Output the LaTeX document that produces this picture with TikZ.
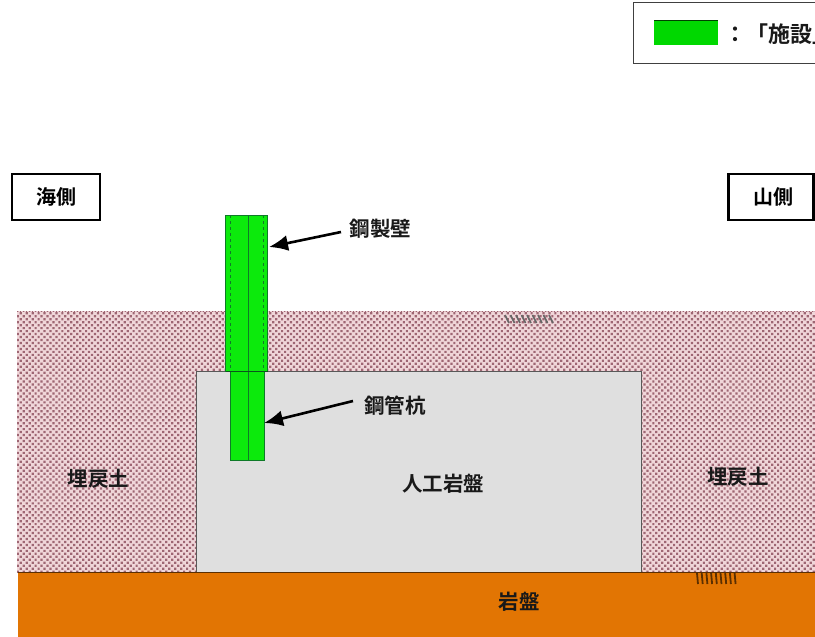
\documentclass[tikz,border=0pt]{standalone}
\usepackage{fontspec}
\newfontfamily\cjk[BoldFont=Noto Sans CJK JP Bold]{Noto Sans CJK JP}
\usetikzlibrary{patterns.meta,arrows.meta}
\definecolor{fillpink}{HTML}{F0D6D9}
\definecolor{dotcol}{HTML}{9E6673}
\definecolor{rockc}{HTML}{E27503}
\definecolor{greyc}{HTML}{DFDFDF}
\definecolor{greenc}{HTML}{0CEA0C}
\definecolor{legendg}{HTML}{00D800}
\definecolor{greenl}{HTML}{0F7A28}
\tikzset{
  x=1pt,y=-1pt,
  lab/.style={font=\cjk\bfseries\fontsize{20.5}{24}\selectfont,text=black!90,inner sep=0pt},
  sidebox/.style={draw=black,line width=2.2pt,fill=white,inner sep=0pt,font=\cjk\bfseries\fontsize{20}{24}\selectfont},
  ptr/.style={line width=2.6pt,draw=black,-{Latex[length=19pt,width=16pt]}},
  steelpart/.style={draw=greenl,line width=0.7pt,fill=greenc},
  groundline/.style={draw=black!65,line width=0.8pt},
}
\begin{document}
\begin{tikzpicture}
\useasboundingbox (0,0) rectangle (815,637);
\clip (0,0) rectangle (815,637);
% fill
\fill[fillpink] (17,311) rectangle (815,573);
\fill[pattern={Dots[radius=1.55pt,distance=4.2pt,angle=45]},pattern color=dotcol] (17,311) rectangle (815,573);
\draw[dotcol,line width=1pt,dotted] (17,311) -- (815,311);
% artificial rock
\draw[groundline,fill=greyc] (196,573) -- (196,371) -- (641,371) -- (641,573);
% bedrock
\fill[rockc] (18,573) rectangle (815,637);
\draw[black!60!rockc,line width=0.8pt] (18,572.5) -- (815,572.5);
% small marks
\foreach \i in {0,...,8} {\draw[black!60!rockc,line width=1.8pt] ({697+\i*4.7},573) -- ({698+\i*4.7},584);}
\foreach \i in {0,...,8} {\draw[black!60,line width=1.6pt] ({505+\i*5.5},315) -- ({509+\i*5.5},323);}
% steel
\draw[steelpart] (225.5,215) rectangle (267.5,371);
\draw[greenl,line width=0.7pt,dashed] (230,215) -- (230,371) (263,215) -- (263,371);
\draw[steelpart] (230,371) rectangle (264,460);
\draw[greenl,line width=0.7pt] (248,215) -- (248,460);
\draw[greenl!70!black,line width=0.7pt] (225.5,371) -- (267.5,371);
% labels
\node[lab] (wall) at (380.5,229) {鋼製壁};
\node[lab] (pile) at (395,406) {鋼管杭};
\node[lab] (fl) at (98.5,479) {埋戻土};
\node[lab] (fr) at (738,477) {埋戻土};
\node[lab] (ar) at (443,484) {人工岩盤};
\node[lab] (rk) at (519,602) {岩盤};
\coordinate (wallpt) at (269,247);
\coordinate (pilept) at (264,423);
\coordinate (wallst) at (341,232);
\coordinate (pilest) at (353,401);
\draw[ptr] (wallst) -- (wallpt);
\draw[ptr] (pilest) -- (pilept);
\node[sidebox,minimum width=88pt,minimum height=46pt] (sea) at (56,197) {海側};
\node[sidebox,minimum width=85pt,minimum height=46pt] (mt) at (771,197) {\hspace*{4pt}山側};
% legend
\draw[black!75,line width=0.9pt,fill=white] (633.5,2.5) rectangle (830,63.5);
\fill[legendg] (654,20) rectangle (718,45);
\draw[black!70!legendg,line width=1pt] (654,20.5) -- (718,20.5);
\node[lab,anchor=west,font=\cjk\bfseries\fontsize{22}{24}\selectfont] (lg) at (724,34) {：「施設」};
\end{tikzpicture}
\end{document}
